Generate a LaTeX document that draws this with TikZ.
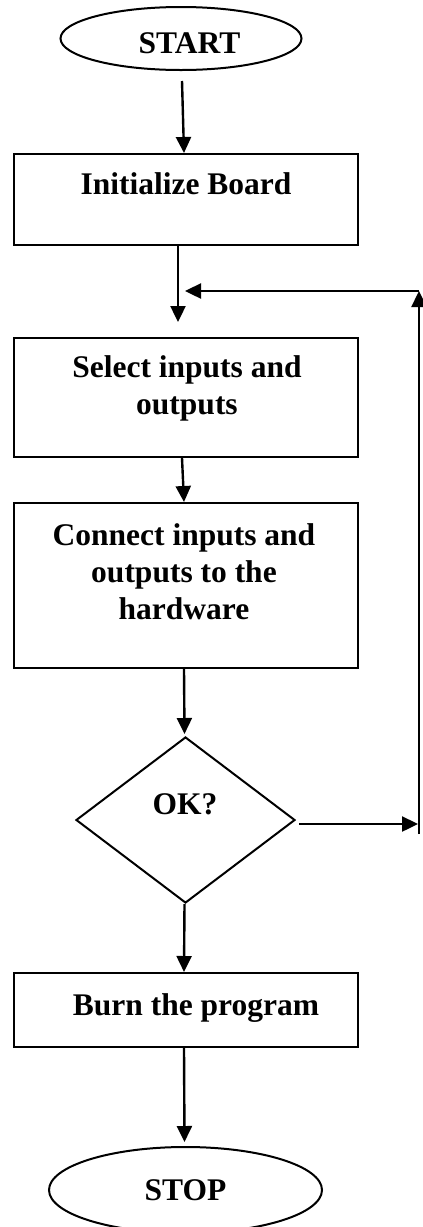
\documentclass[tikz,border=0pt]{standalone}
\usepackage{fontspec}
\setmainfont{Liberation Serif}
\usetikzlibrary{shapes.geometric,arrows.meta}
\begin{document}
\begin{tikzpicture}[x=1pt,y=-1pt,
  outline/.style={draw=black,line width=2pt},
  procbox/.style={outline,rectangle,minimum width=344pt,inner sep=0pt},
  terminal/.style={outline,ellipse,inner sep=0pt},
  decision/.style={outline,diamond,inner sep=0pt,minimum width=219pt,minimum height=166pt},
  txt/.style={font=\fontsize{31.5}{37}\selectfont\bfseries,align=center,inner sep=0pt},
  flow/.style={line width=2.4pt,-{Triangle[length=16pt,width=15pt]}},
]
\useasboundingbox (0,0) rectangle (423,1227);

% terminals
\node[terminal,minimum width=241pt,minimum height=63pt] (start) at (181,38.5) {};
\node[txt] (startTxt) at (189.5,43) {START};
\node[terminal,minimum width=273pt,minimum height=86pt,txt,outline] (stop) at (185.5,1190) {STOP};

% process boxes
\node[procbox,minimum height=91pt] (init) at (186,199.5) {};
\node[txt] (initTxt) at (186,184) {Initialize Board};

\node[procbox,minimum height=119pt] (sel) at (186,397.5) {};
\node[txt] (selTxt) at (187,388.5) {Select inputs and\\outputs};

\node[procbox,minimum height=165pt] (conn) at (186,585.5) {};
\node[txt] (connTxt) at (184,571.3) {Connect inputs and\\outputs to the\\hardware};

\node[procbox,minimum height=74pt] (burn) at (186,1010) {};
\node[txt] (burnTxt) at (196,1007.6) {Burn the program};

% decision
\node[decision] (ok) at (185.5,820) {};
\node[txt] (okTxt) at (185,804) {OK?};

% loop-back path on the right
\coordinate (loopBot) at (419,834);
\coordinate (loopTop) at (419,291);
\coordinate (loopEnd) at (185,291);
\coordinate (okOut) at ([xshift=3pt,yshift=-4pt]ok.east);

% main flow
\draw[flow] ([xshift=1pt,yshift=-10pt]start.south) -- ([xshift=-2pt]init.north);
\draw[flow] ([xshift=-8pt]init.south) -- ([xshift=-8pt,yshift=15pt]sel.north);
\draw[flow] ([xshift=-4pt]sel.south) -- ([xshift=-2pt]conn.north);
\draw[flow] ([xshift=-2pt]conn.south) -- ([xshift=-1pt,yshift=2pt]ok.north);
\draw[flow] ([xshift=-1pt]ok.south) -- ([xshift=-2pt]burn.north);
\draw[flow] ([xshift=-2pt]burn.south) -- ([xshift=-1pt,yshift=4pt]stop.north);

% "not OK" branch back to the selection step
\draw[flow,shorten >=1pt] (okOut) -- (okOut -| loopBot);
\draw[flow] (loopBot) -- (loopTop);
\draw[flow] (loopTop) -- (loopEnd);
\end{tikzpicture}
\end{document}
